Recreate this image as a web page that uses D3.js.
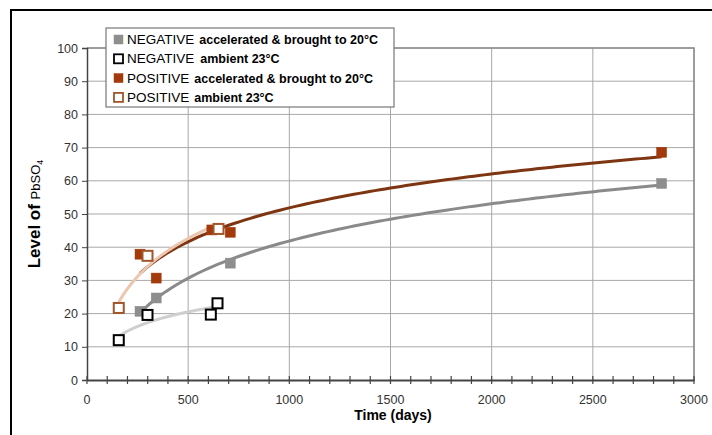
<!DOCTYPE html>
<html><head><meta charset="utf-8">
<script src="https://cdn.jsdelivr.net/npm/d3@7"></script>
<style>body{margin:0;background:#fff}svg{display:block}text{font-family:Arial,"Liberation Sans",sans-serif}</style>
</head><body><svg id="c" width="712" height="435"></svg>
<script>
const xTicks = [0,500,1000,1500,2000,2500,3000];
const yTicks = [0,10,20,30,40,50,60,70,80,90,100];
const negAccDays = [262,342,708,2840];
const negAccVals = [20.7,24.7,35.2,59.2];
const negAmbDays = [157,299,612,645];
const negAmbVals = [12,19.6,19.7,23.1];
const posAccDays = [262,342,617,708,2840];
const posAccVals = [37.9,30.7,45.2,44.5,68.6];
const posAmbDays = [157,299,650];
const posAmbVals = [21.7,37.4,45.5];
const seriesNames = ["NEGATIVE","NEGATIVE","POSITIVE","POSITIVE"];
const seriesDesc = ["accelerated & brought to 20°C","ambient 23°C","accelerated & brought to 20°C","ambient 23°C"];

const series = [
  {d:negAccDays,v:negAccVals,fill:"#8e8e8e",stroke:"#8e8e8e",open:false,trend:"#8a8a8a"},
  {d:negAmbDays,v:negAmbVals,fill:"#fff",stroke:"#000",open:true,trend:"#cfcfcf"},
  {d:posAccDays,v:posAccVals,fill:"#a33a0c",stroke:"#a33a0c",open:false,trend:"#7e3512"},
  {d:posAmbDays,v:posAmbVals,fill:"#fff",stroke:"#a0552a",open:true,trend:"#ecc6ae"}
];

const svg = d3.select("#c");
const x = d3.scaleLinear().domain([0,3000]).range([87,694]);
const y = d3.scaleLinear().domain([0,100]).range([380,48]);

svg.append("rect").attr("x",11).attr("y",10).attr("width",720).attr("height",440)
  .attr("fill","#fff").attr("stroke","#000").attr("stroke-width",2);

const g = svg.append("g");
g.selectAll(".hg").data(yTicks.slice(1)).join("line")
  .attr("x1",x(0)).attr("x2",x(3000)).attr("y1",d=>y(d)).attr("y2",d=>y(d))
  .attr("stroke","#a8a8a8").attr("stroke-width",1);
g.selectAll(".vg").data(xTicks.slice(1)).join("line")
  .attr("x1",d=>x(d)).attr("x2",d=>x(d)).attr("y1",y(0)).attr("y2",y(100))
  .attr("stroke","#a8a8a8").attr("stroke-width",1);
svg.append("path").attr("d",`M${x(0)},${y(100)}H${x(3000)}V${y(0)}`)
  .attr("fill","none").attr("stroke","#8a8a8a").attr("stroke-width",1.5);

function logFit(ds, vs){
  const lx = ds.map(Math.log);
  const mx = d3.mean(lx), my = d3.mean(vs);
  let sxy=0,sxx=0; lx.forEach((l,i)=>{sxy+=(l-mx)*(vs[i]-my);sxx+=(l-mx)*(l-mx);});
  const b = sxy/sxx, a = my-b*mx;
  return t => a + b*Math.log(t);
}
const line = d3.line().x(d=>x(d[0])).y(d=>y(d[1]));
series.forEach(s=>{
  const f = logFit(s.d,s.v);
  const lo = d3.min(s.d), hi = d3.max(s.d);
  const pts = d3.range(0,101).map(i=>{const t=lo+(hi-lo)*i/100;return [t,f(t)];});
  svg.append("path").attr("d",line(pts)).attr("fill","none")
    .attr("stroke",s.trend).attr("stroke-width",3);
});

const xa = svg.append("g").attr("transform",`translate(0,${y(0)})`)
  .call(d3.axisBottom(x).tickValues(d3.range(0,3001,100)).tickSize(0).tickFormat(""));
xa.select(".domain").attr("stroke","#444").attr("stroke-width",2);
xa.selectAll(".tick line").remove();
svg.append("g").selectAll("line").data(d3.range(0,3001,100)).join("line")
  .attr("x1",d=>x(d)).attr("x2",d=>x(d)).attr("y1",y(0)-4).attr("y2",y(0)+4)
  .attr("stroke","#444").attr("stroke-width",1.2);
svg.append("g").selectAll("text").data(xTicks).join("text")
  .attr("x",d=>x(d)).attr("y",404).attr("text-anchor","middle")
  .attr("font-size",12.5).attr("fill","#333").text(d=>d);

const ya = svg.append("g").attr("transform",`translate(${x(0)},0)`)
  .call(d3.axisLeft(y).tickValues(yTicks).tickSize(5).tickPadding(4));
ya.select(".domain").attr("stroke","#444").attr("stroke-width",1.5);
ya.selectAll(".tick line").attr("stroke","#444");
ya.selectAll(".tick text").attr("font-size",12.5).attr("fill","#333")
  .attr("font-family","Arial,'Liberation Sans',sans-serif");

series.forEach(s=>{
  svg.append("g").selectAll("rect").data(s.d.map((t,i)=>[t,s.v[i]])).join("rect")
    .attr("x",d=>x(d[0])-5).attr("y",d=>y(d[1])-5).attr("width",10).attr("height",10)
    .attr("fill",s.fill).attr("stroke",s.stroke).attr("stroke-width",s.open?2:0.5);
});

svg.append("text").attr("x",393).attr("y",420).attr("text-anchor","middle")
  .attr("font-size",14).attr("font-weight","bold").attr("fill","#000").text("Time (days)");
const yl = svg.append("text").attr("transform","translate(40,214) rotate(-90)")
  .attr("text-anchor","middle").attr("fill","#000");
yl.append("tspan").attr("font-size",17).attr("font-weight","bold").text("Level of ");
yl.append("tspan").attr("font-size",13).text("PbSO");
yl.append("tspan").attr("font-size",9).attr("dy",3).text("4");

const lg = svg.append("g");
lg.append("rect").attr("x",106).attr("y",28).attr("width",288).attr("height",79)
  .attr("fill","#fff").attr("stroke","#777").attr("stroke-width",1.2);
series.forEach((s,i)=>{
  const cy = 39.5 + i*19.3;
  lg.append("rect").attr("x",114).attr("y",cy-4.5).attr("width",9).attr("height",9)
    .attr("fill",s.fill).attr("stroke",s.stroke).attr("stroke-width",s.open?1.8:0.5);
  const t = lg.append("text").attr("x",127).attr("y",cy+4.5).attr("font-size",13.5).attr("fill","#000");
  t.append("tspan").text(seriesNames[i]);
  t.append("tspan").attr("dx",i===1?6:(i===0?5:5)).attr("font-weight","bold").attr("font-size",12.5).text(seriesDesc[i]);
});
</script></body></html>
